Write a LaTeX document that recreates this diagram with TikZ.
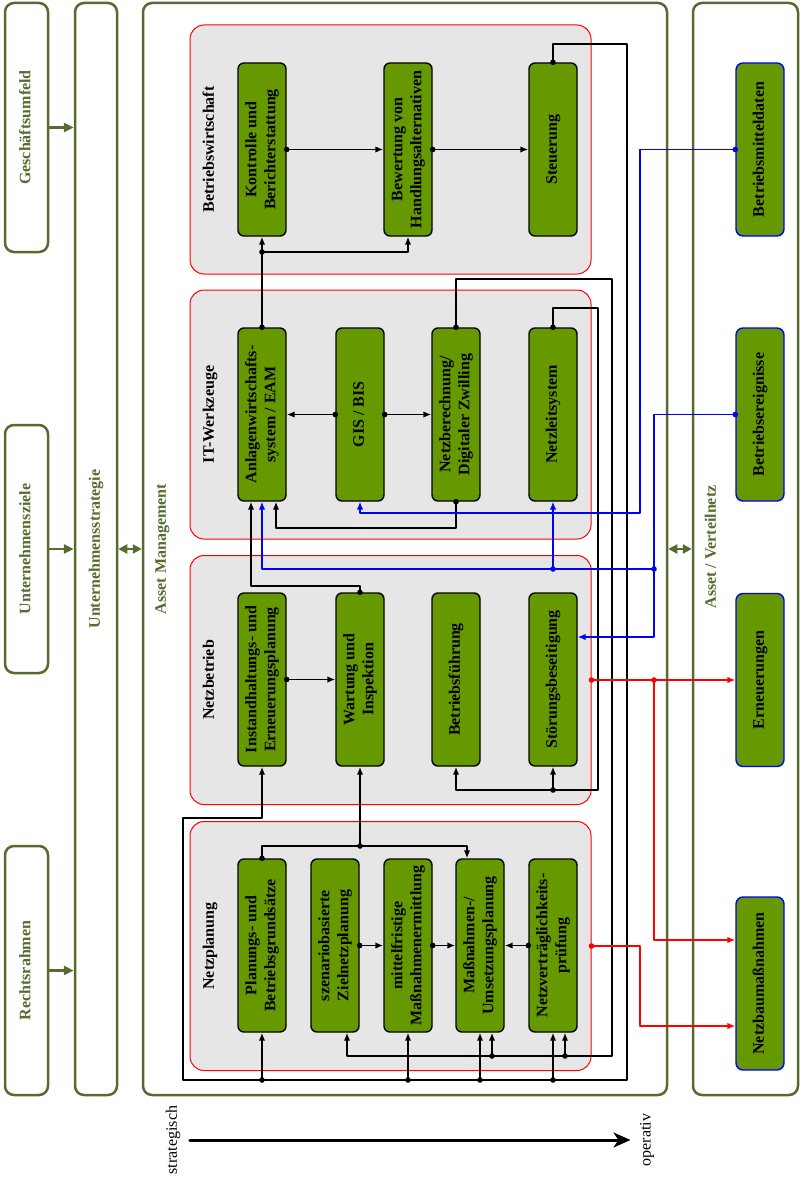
\documentclass[tikz,border=0pt]{standalone}
\usepackage{fontspec}
\setmainfont{Liberation Serif}
\usepackage{graphicx}
\usetikzlibrary{arrows.meta,calc,positioning}
\definecolor{assetolive}{RGB}{85,107,47}
\definecolor{taskgreen}{RGB}{102,153,0}
\definecolor{groupgray}{RGB}{230,230,230}
\newcommand{\vtext}[1]{\rotatebox{90}{\begin{tabular}{@{}c@{}}#1\end{tabular}}}

\begin{document}
\begin{tikzpicture}[x=1pt,y=-1pt,line cap=round,line join=round,
  font=\fontsize{16}{19}\selectfont\bfseries,
  oliveframe/.style={draw=assetolive,line width=2.5pt,rounded corners=9pt,
   text=assetolive,inner sep=0pt},
  grpbox/.style={draw=red,fill=groupgray,line width=1pt,rounded corners=14pt,
   minimum width=401pt,minimum height=249pt,inner sep=0pt},
  taskbox/.style={draw=black,fill=taskgreen,line width=1.4pt,rounded corners=6pt,
   minimum width=48pt,minimum height=173pt,inner sep=2pt},
  assetbox/.style={taskbox,draw=blue,rounded corners=7pt},
  feed/.style={line width=1.7pt,-{Latex[length=8pt,width=6.5pt]}},
  colfeed/.style={line width=1.4pt,-{Latex[length=8pt,width=6.5pt]}},
  olivearrow/.style={draw=assetolive,line width=2.5pt,
   -{Triangle[length=10pt,width=9pt]}},
  olivedouble/.style={draw=assetolive,line width=2.5pt,
   {Triangle[length=9pt,width=9pt]}-{Triangle[length=9pt,width=9pt]}}]
 \useasboundingbox (0,0) rectangle (801,1180);

 \node[oliveframe,minimum width=43pt,minimum height=249pt] (gu)
  at (26.5,127.5) {\vtext{Geschäftsumfeld}};
 \node[oliveframe,minimum width=43pt,minimum height=248pt] (uz)
  at (26.5,549) {\vtext{Unternehmensziele}};
 \node[oliveframe,minimum width=43pt,minimum height=249pt] (rr)
  at (26.5,970.5) {\vtext{Rechtsrahmen}};
 \node[oliveframe,minimum width=42pt,minimum height=1092pt] (us)
  at (96,549) {\vtext{Unternehmensstrategie}};
 \node[oliveframe,minimum width=524pt,minimum height=1092pt] (am)
  at (405,549) {};
 \node[oliveframe,minimum width=105pt,minimum height=1092pt] (av)
  at (745.5,549) {};
 \node[text=assetolive] (amlabel) at (162,549) {\vtext{Asset Management}};
 \node[text=assetolive] (avlabel) at (712,547) {\vtext{Asset / Verteilnetz}};

 \draw[olivearrow] (gu.east) -- (gu.east -| us.west);
 \draw[olivearrow] (uz.east) -- (uz.east -| us.west);
 \draw[olivearrow] (rr.east) -- (rr.east -| us.west);
 \draw[olivedouble] (us.east) -- (am.west);
 \draw[olivedouble] (am.east) -- (av.west);

 \node[grpbox] (bw) at (390.5,149.5) {};
 \node[grpbox] (it) at (390.5,414.5) {};
 \node[grpbox] (nb) at (390.5,680) {};
 \node[grpbox] (np) at (390.5,946) {};
 \node (bwlabel) at (210,149.5) {\vtext{Betriebswirtschaft}};
 \node (itlabel) at (210,414.5) {\vtext{IT-Werkzeuge}};
 \node (nblabel) at (210,680) {\vtext{Netzbetrieb}};
 \node (nplabel) at (210,946) {\vtext{Netzplanung}};

 \node[taskbox] (kon) at (262,149.5) {\vtext{Kontrolle und\\Berichterstattung}};
 \node[taskbox] (bew) at (408,149.5) {\vtext{Bewertung von\\Handlungsalternativen}};
 \node[taskbox] (steu) at (553,149.5) {\vtext{Steuerung}};
 \node[taskbox] (eam) at (262,414.5) {\vtext{Anlagenwirtschafts-\\system / EAM}};
 \node[taskbox] (gis) at (360,414.5) {\vtext{GIS / BIS}};
 \node[taskbox] (nzb) at (456,414.5) {\vtext{Netzberechnung/\\Digitaler Zwilling}};
 \node[taskbox] (nls) at (553,414.5) {\vtext{Netzleitsystem}};
 \node[taskbox] (iep) at (262,679.5) {\vtext{Instandhaltungs- und\\Erneuerungsplanung}};
 \node[taskbox] (wart) at (360,679.5) {\vtext{Wartung und\\Inspektion}};
 \node[taskbox] (bfue) at (456,679.5) {\vtext{Betriebsführung}};
 \node[taskbox] (stoer) at (553,679.5) {\vtext{Störungsbeseitigung}};
 \node[taskbox] (pbg) at (262,945.5) {\vtext{Planungs- und\\Betriebsgrundsätze}};
 \node[taskbox] (szen) at (335,945.5) {\vtext{szenariobasierte\\Zielnetzplanung}};
 \node[taskbox] (mfm) at (408,945.5) {\vtext{mittelfristige\\Maßnahmenermittlung}};
 \node[taskbox] (mup) at (480,945.5) {\vtext{Maßnahmen-/\\Umsetzungsplanung}};
 \node[taskbox] (nvp) at (553,945.5) {\vtext{Netzverträglichkeits-\\prüfung}};

 \node[assetbox] (bmd) at (760,149.5) {\vtext{Betriebsmitteldaten}};
 \node[assetbox] (ber) at (760,414.5) {\vtext{Betriebsereignisse}};
 \node[assetbox] (ern) at (760,680) {\vtext{Erneuerungen}};
 \node[assetbox] (nbm) at (760,983.5) {\vtext{Netzbaumaßnahmen}};

 \coordinate (eamsplit) at (262,252);
 \coordinate (lowbus) at (183,1080);
 \coordinate (midbus) at (347,1056);
 \coordinate (nbbus) at (598,790);
 \coordinate (npbus) at (262,846);
 \coordinate (bluebus) at (654,569);
 \coordinate (bluebend) at (654,637);
 \coordinate (redsplit) at (654,680);

 \draw[feed] (kon.east) -- (bew.west);
 \draw[feed] (bew.east) -- (steu.west);
 \draw[feed] (steu.north) |- (627,44) -- (627,1080) -| (183,818) -| (iep.south);
 \draw[feed] (pbg.south |- lowbus) -- (pbg.south);
 \draw[feed] (mfm.south |- lowbus) -- (mfm.south);
 \draw[feed] (mup.south |- lowbus) -- (mup.south);
 \draw[feed] (nvp.south |- lowbus) -- (nvp.south);
 \draw[feed] (nzb.north) |- (612,279) -- (612,1056) -| ([xshift=12pt]szen.south);
 \draw[feed] ([xshift=12pt]mup.south |- midbus) -- ([xshift=12pt]mup.south);
 \draw[feed] ([xshift=12pt]nvp.south |- midbus) -- ([xshift=12pt]nvp.south);
 \draw[feed] (eam.north) -- (kon.south);
 \draw[feed] (eamsplit) -| (bew.south);
 \draw[feed] (gis.west) -- (eam.east);
 \draw[feed] (gis.east) -- (nzb.west);
 \draw[feed] (nzb.south) |- (276,528) -- ([xshift=14pt]eam.south);
 \draw[feed] (wart.north) |- (251,586) -- ([xshift=-11pt]eam.south);
 \draw[feed] (nls.north) |- (598,308) -- (nbbus) -| (bfue.south);
 \draw[feed] (stoer.south |- nbbus) -- (stoer.south);
 \draw[feed] (iep.east) -- (wart.west);
 \draw[feed] (pbg.north) -- (npbus) -| ([xshift=-13pt]mup.north);
 \draw[feed] (wart.south |- npbus) -- (wart.south);
 \draw[feed] (szen.east) -- (mfm.west);
 \draw[feed] (mfm.east) -- (mup.west);
 \draw[feed] (nvp.west) -- (mup.east);
 \fill (kon.east) circle (2.8pt) (bew.east) circle (2.8pt)
  (steu.north) circle (2.8pt) (nzb.north) circle (2.8pt)
  (nzb.south) circle (2.8pt) (eam.north) circle (2.8pt)
  (eamsplit) circle (2.8pt) (gis.west) circle (2.8pt)
  (gis.east) circle (2.8pt) (wart.north) circle (2.8pt)
  (nls.north) circle (2.8pt) (stoer.south |- nbbus) circle (2.8pt)
  (iep.east) circle (2.8pt) (pbg.north) circle (2.8pt)
  (wart.south |- npbus) circle (2.8pt) (szen.east) circle (2.8pt)
  (mfm.east) circle (2.8pt) (nvp.west) circle (2.8pt)
  (pbg.south |- lowbus) circle (2.8pt) (mfm.south |- lowbus) circle (2.8pt)
  (mup.south |- lowbus) circle (2.8pt) (nvp.south |- lowbus) circle (2.8pt)
  ([xshift=12pt]mup.south |- midbus) circle (2.8pt)
  ([xshift=12pt]nvp.south |- midbus) circle (2.8pt);

 \draw[colfeed,blue] (bmd.west) -| (640,513) -| (gis.south);
 \draw[colfeed,blue] (ber.west) -| (bluebend) -- (bluebend -| stoer.east);
 \draw[colfeed,blue] (bluebus) -| (eam.south);
 \draw[colfeed,blue] (nls.south |- bluebus) -- (nls.south);
 \fill[blue] (bmd.west) circle (2.8pt) (ber.west) circle (2.8pt)
  (bluebus) circle (2.8pt) (nls.south |- bluebus) circle (2.8pt);

 \draw[colfeed,red] (nb.east) -- (ern.west);
 \draw[colfeed,red] (redsplit) |- ([yshift=43.5pt]nbm.west);
 \draw[colfeed,red] (np.east) -| (640,1026) -- ([yshift=-42.5pt]nbm.west);
 \fill[red] (nb.east) circle (2.8pt) (redsplit) circle (2.8pt)
  (np.east) circle (2.8pt);

 \node[font=\fontsize{16}{19}\selectfont\mdseries] (strat)
  at (173,1140) {\rotatebox{90}{strategisch}};
 \node[font=\fontsize{16}{19}\selectfont\mdseries] (oper)
  at (647,1140) {\rotatebox{90}{operativ}};
 \draw[line width=3pt,shorten <=6pt,shorten >=6pt,
  -{Stealth[length=17pt,width=15pt,inset=5pt]}] (strat) -- (oper);
\end{tikzpicture}
\end{document}
